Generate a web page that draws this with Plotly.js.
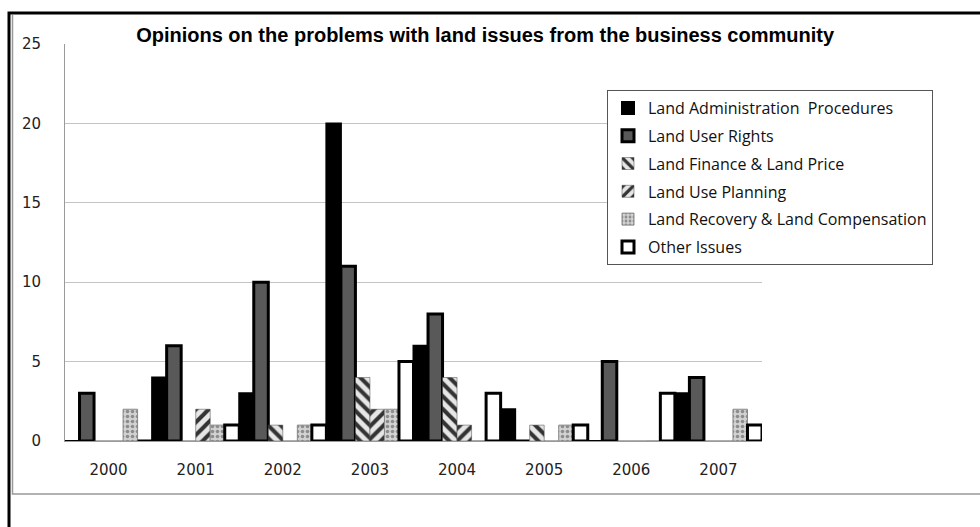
<!DOCTYPE html>
<html>
<head>
<meta charset="utf-8">
<script src="https://cdn.plot.ly/plotly-3.0.1.min.js"></script>
<style>html,body{margin:0;padding:0;background:#fff;}#chart{width:980px;height:527px;}</style>
</head>
<body>
<div id="chart"></div>
<script>
const years = ['2000','2001','2002','2003','2004','2005','2006','2007'];
const adminProcedures = [0,4,3,20,6,2,0,3];
const userRights = [3,6,10,11,8,0,5,4];
const financePrice = [0,0,1,4,4,1,0,0];
const usePlanning = [0,2,0,2,1,0,0,0];
const recoveryCompensation = [2,1,1,2,0,1,0,2];
const otherIssues = [0,1,1,5,3,1,3,1];
const seriesNames = ['Land Administration  Procedures','Land User Rights','Land Finance & Land Price','Land Use Planning','Land Recovery & Land Compensation','Other Issues'];
const yTicks = [0,5,10,15,20,25];

const L = 65, R = 762, T = 44, B = 441, W = 980, H = 527;
const px = v => (v - L) / (R - L);
const py = v => (B - v) / (B - T);

const traces = [
  {y: adminProcedures, name: seriesNames[0], marker: {color: '#000', line: {color: '#000', width: 2}}},
  {y: userRights, name: seriesNames[1], marker: {color: '#595959', line: {color: '#000', width: 3}}},
  {y: financePrice, name: seriesNames[2], marker: {color: '#e0e0e0', line: {color: '#444', width: 0.5}, pattern: {shape: '\\', fgcolor: '#333', bgcolor: '#e6e6e6', size: 9, solidity: 0.45}}},
  {y: usePlanning, name: seriesNames[3], marker: {color: '#e0e0e0', line: {color: '#444', width: 0.5}, pattern: {shape: '/', fgcolor: '#333', bgcolor: '#e6e6e6', size: 9, solidity: 0.45}}},
  {y: recoveryCompensation, name: seriesNames[4], marker: {color: '#c8c8c8', line: {color: '#888', width: 1}, pattern: {shape: '.', fgcolor: '#8c8c8c', bgcolor: '#d2d2d2', size: 5, solidity: 0.4}}},
  {y: otherIssues, name: seriesNames[5], marker: {color: '#fff', line: {color: '#000', width: 3}}}
].map((t, i) => Object.assign({type: 'bar', x: years, legendgroup: 'g' + i, hoverinfo: 'x+y+name'}, t));

const layout = {
  width: W, height: H,
  margin: {l: L, r: W - R, t: T, b: H - B, pad: 0},
  paper_bgcolor: '#fff', plot_bgcolor: '#fff',
  barmode: 'group', bargap: 0, bargroupgap: 0,
  font: {family: 'DejaVu Sans, sans-serif', color: '#222'},
  title: {text: '<b>Opinions on the problems with land issues from the business community</b>',
          font: {family: 'Liberation Sans, sans-serif', size: 20, color: '#000'},
          x: 0.495, xanchor: 'center', y: 1 - 35 / H, yanchor: 'middle'},
  xaxis: {type: 'category', showgrid: false, showline: true, linecolor: '#9a9a9a', linewidth: 1,
          ticks: '', tickfont: {size: 15, color: '#222'}, ticklabelstandoff: 15, zeroline: false},
  yaxis: {range: [0, 25], tickvals: yTicks, ticktext: yTicks.map(String), showgrid: true, gridcolor: '#c4c4c4', gridwidth: 1,
          showline: true, linecolor: '#9a9a9a', linewidth: 1, ticks: '', zeroline: false,
          tickfont: {size: 15, color: '#222'}, ticklabelstandoff: 20},
  legend: {x: px(607), y: py(90), xanchor: 'left', yanchor: 'top', bgcolor: '#fff', bordercolor: '#555', borderwidth: 1,
           font: {family: 'Open Sans, sans-serif', size: 16, color: '#111'}, tracegroupgap: 4, traceorder: 'grouped'},
  showlegend: true,
  shapes: [
    {type: 'path', xref: 'paper', yref: 'paper', path: `M ${px(9)} ${py(H)} L ${px(9)} ${py(13)} L ${px(W)} ${py(13)}`,
     line: {color: '#000', width: 3}},
    {type: 'path', xref: 'paper', yref: 'paper', path: `M ${px(12.5)} ${py(15)} L ${px(12.5)} ${py(494)} L ${px(W)} ${py(494)}`,
     line: {color: '#999', width: 1.5}}
  ]
};

Plotly.newPlot('chart', traces, layout, {displayModeBar: false, staticPlot: true});
</script>
</body>
</html>
